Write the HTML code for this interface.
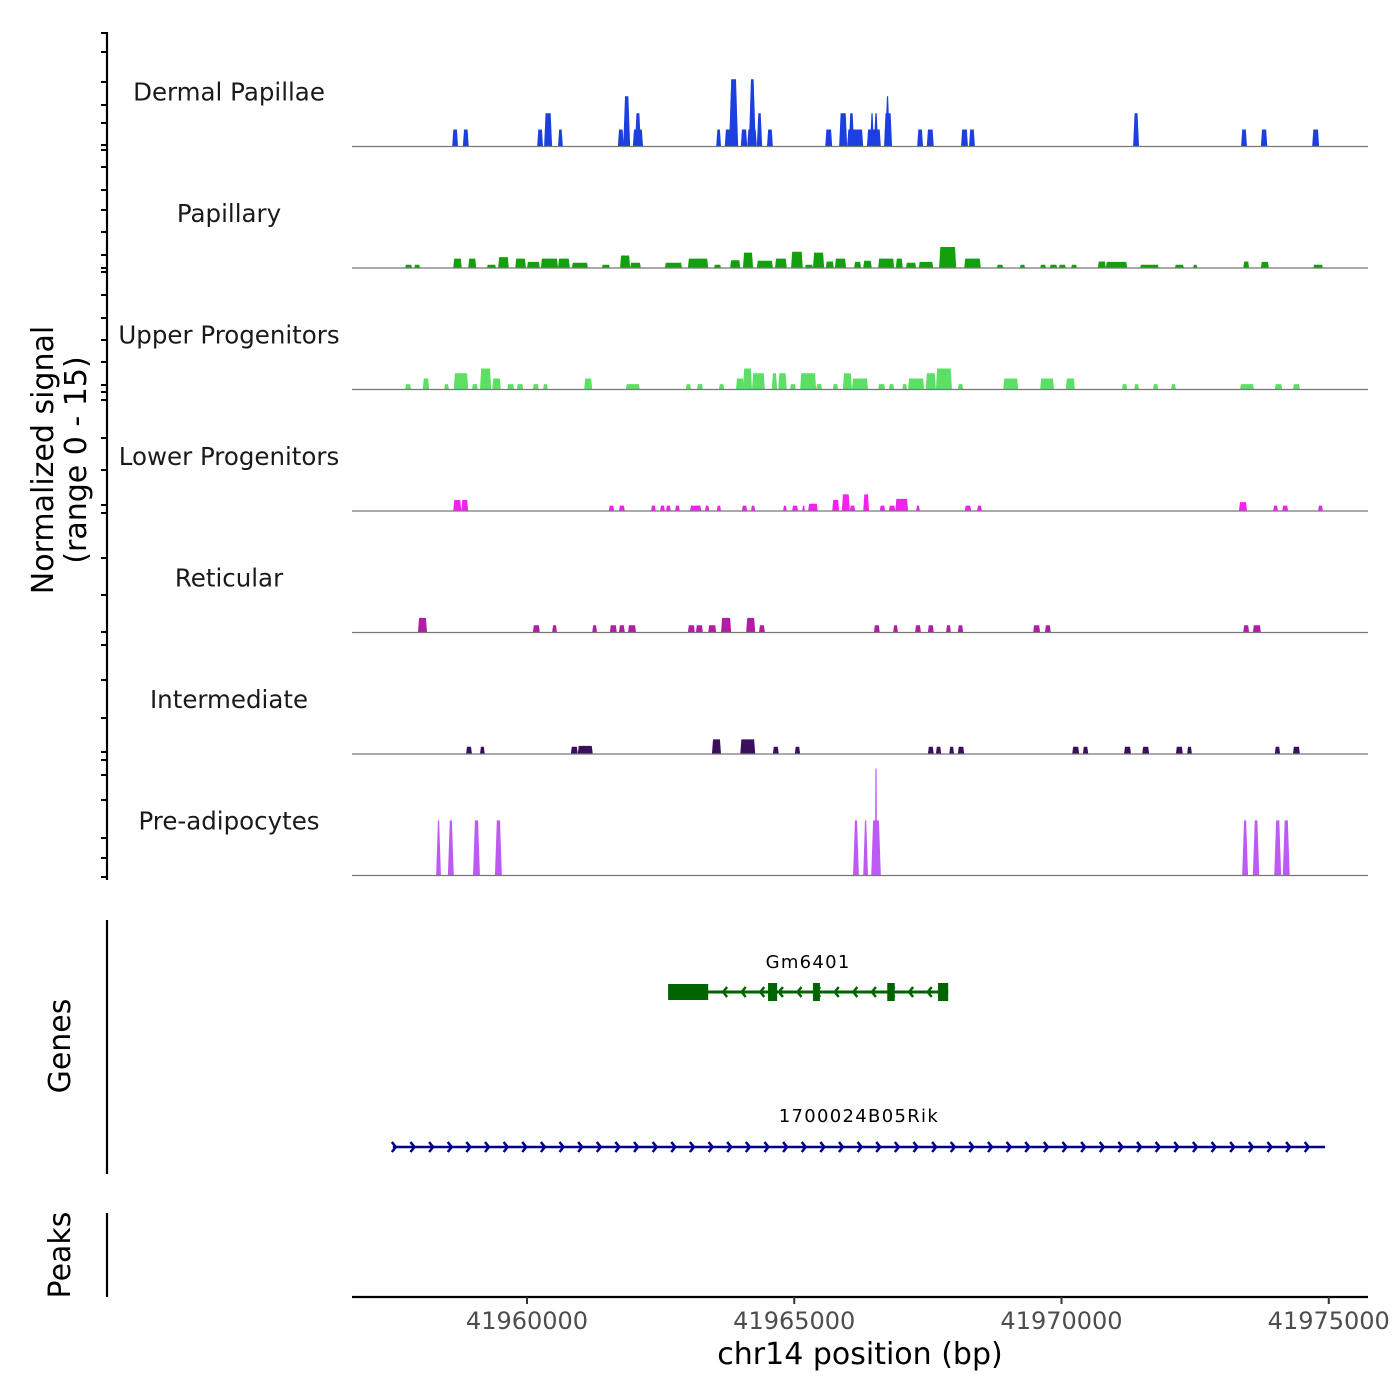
<!DOCTYPE html>
<html><head><meta charset="utf-8"><title>Coverage plot</title>
<style>
html,body{margin:0;padding:0;background:#fff;}
svg{display:block;font-family:"DejaVu Sans","Liberation Sans",sans-serif;}
</style></head>
<body>
<svg id="chart" width="1400" height="1400" viewBox="0 0 1400 1400" xmlns="http://www.w3.org/2000/svg">
<rect x="0" y="0" width="1400" height="1400" fill="#fff"/>
<g id="tracks"></g>
<g id="genes"></g>
<g id="axes">
  <line x1="107" y1="32" x2="107" y2="880" stroke="#000" stroke-width="2.2"/>
  <line x1="107" y1="920" x2="107" y2="1174" stroke="#000" stroke-width="2.2"/>
  <line x1="107" y1="1213" x2="107" y2="1297" stroke="#000" stroke-width="2.2"/>
  <line x1="352" y1="1297" x2="1368" y2="1297" stroke="#000" stroke-width="2.2"/>
  <text x="0" y="0" transform="translate(53,460) rotate(-90)" font-size="30" text-anchor="middle" fill="#000">Normalized signal</text>
  <text x="0" y="0" transform="translate(86,460) rotate(-90)" font-size="30" text-anchor="middle" fill="#000">(range 0 - 15)</text>
  <text x="0" y="0" transform="translate(70,1046) rotate(-90)" font-size="30" text-anchor="middle" fill="#000">Genes</text>
  <text x="0" y="0" transform="translate(70,1255) rotate(-90)" font-size="30" text-anchor="middle" fill="#000">Peaks</text>
  <text x="860" y="1364" font-size="30" text-anchor="middle" fill="#000">chr14 position (bp)</text>
</g>
</svg>
<script>
// ---- data (positions in kb relative to ORIGIN bp; heights in normalized signal units) ----
const ORIGIN = 41960000;
const xTicks = [41960000, 41965000, 41970000, 41975000];
const trackNames = ["Dermal Papillae","Papillary","Upper Progenitors","Lower Progenitors","Reticular","Intermediate","Pre-adipocytes"];
const trackColors = ["#1c3fdf","#12a00c","#5ddf66","#ef22ee","#b41ca6","#3b0f5c","#be5af4"];

const dpStart = [-1.40,-1.20,0.19,0.32,0.58,1.70,1.80,1.98,2.02,3.54,3.70,3.78,4.00,4.12,4.15,4.30,4.49,5.58,5.84,5.99,6.02,6.36,6.42,6.49,6.68,6.70,7.30,7.48,8.12,8.27,11.34,13.36,13.73,14.69];
const dpEnd   = [-1.29,-1.09,0.30,0.47,0.67,1.81,1.93,2.17,2.13,3.63,3.93,3.95,4.12,4.30,4.28,4.40,4.60,5.71,5.99,6.29,6.12,6.62,6.49,6.57,6.83,6.79,7.41,7.61,8.25,8.38,11.45,13.47,13.85,14.82];
const dpVal   = [2.1,2.1,2.1,4.1,2.1,2.1,6.2,2.1,4.1,2.1,2.1,8.3,2.1,2.1,8.3,4.1,2.1,2.1,4.1,2.1,4.1,2.1,4.1,4.1,4.1,6.2,2.1,2.1,2.1,2.1,4.1,2.1,2.1,2.1];

const paStart = [-2.28,-2.11,-1.38,-1.10,-0.75,-0.54,-0.22,0.00,0.26,0.58,0.84,1.40,1.74,1.93,2.58,3.01,3.50,3.80,4.04,4.30,4.64,4.94,5.20,5.35,5.59,5.76,6.12,6.29,6.57,6.90,7.09,7.33,7.71,8.18,8.79,9.22,9.60,9.78,9.95,10.18,10.68,10.83,11.47,12.12,12.46,13.40,13.73,14.71];
const paEnd   = [-2.15,-2.00,-1.22,-0.95,-0.58,-0.34,-0.02,0.24,0.58,0.80,1.14,1.55,1.93,2.13,2.90,3.39,3.63,3.99,4.23,4.60,4.86,5.16,5.35,5.56,5.74,5.97,6.25,6.45,6.87,7.03,7.28,7.60,8.03,8.49,8.91,9.32,9.71,9.92,10.08,10.29,10.83,11.23,11.82,12.29,12.54,13.51,13.88,14.89];
const paVal   = [0.4,0.4,1.15,1.15,0.4,1.35,1.15,0.75,1.15,1.15,0.65,0.4,1.55,0.65,0.65,1.15,0.4,0.95,1.9,0.9,1.15,2.0,0.4,1.9,0.8,1.15,0.75,0.9,1.15,1.15,0.65,0.75,2.6,1.15,0.4,0.4,0.4,0.4,0.4,0.4,0.8,0.75,0.4,0.4,0.4,0.8,0.75,0.4];

const upStart = [-2.28,-1.95,-1.55,-1.37,-1.03,-0.88,-0.65,-0.37,-0.19,0.11,0.30,1.07,1.85,2.97,3.18,3.59,3.91,4.04,4.21,4.58,4.70,4.92,5.11,5.41,5.72,5.91,6.08,6.57,6.77,7.02,7.13,7.46,7.65,8.06,8.91,9.60,10.08,11.13,11.36,11.71,12.05,13.34,13.99,14.33];
const upEnd   = [-2.17,-1.83,-1.46,-1.10,-0.92,-0.67,-0.49,-0.24,-0.07,0.22,0.39,1.22,2.11,3.07,3.29,3.69,4.06,4.21,4.45,4.68,4.86,5.03,5.41,5.52,5.82,6.08,6.38,6.70,6.87,7.11,7.43,7.65,7.95,8.16,9.19,9.86,10.25,11.23,11.45,11.81,12.14,13.60,14.13,14.46];
const upVal   = [0.66,1.36,0.66,2.0,0.66,2.6,1.36,0.66,0.66,0.66,0.66,1.36,0.66,0.66,0.66,0.66,1.36,2.6,2.0,2.0,2.0,0.66,2.0,0.66,0.66,2.0,1.36,0.66,0.66,0.66,1.36,2.0,2.6,0.66,1.36,1.36,1.36,0.66,0.66,0.66,0.66,0.66,0.66,0.66];

const lpStart = [-1.38,-1.23,1.53,1.72,2.32,2.49,2.60,2.77,3.05,3.33,3.55,4.02,4.19,4.79,4.96,5.15,5.26,5.71,5.89,6.04,6.29,6.60,6.77,6.89,7.28,8.19,8.42,13.32,13.96,14.13,14.80];
const lpEnd   = [-1.23,-1.10,1.63,1.83,2.41,2.58,2.69,2.86,3.26,3.41,3.63,4.12,4.27,4.86,5.07,5.20,5.44,5.84,6.04,6.14,6.40,6.70,6.89,7.13,7.35,8.31,8.51,13.47,14.05,14.24,14.89];
const lpVal   = [1.36,1.36,0.66,0.66,0.66,0.66,0.66,0.66,0.66,0.66,0.66,0.66,0.66,0.66,0.66,0.66,0.9,1.36,2.06,0.66,2.06,0.66,0.66,1.5,0.66,0.66,0.66,1.1,0.66,0.66,0.66];

const reStart = [-2.04,0.11,0.47,1.22,1.55,1.72,1.89,3.01,3.16,3.39,3.63,4.10,4.34,6.49,6.85,7.26,7.50,7.84,8.06,9.47,9.69,13.40,13.58];
const reEnd   = [-1.87,0.24,0.56,1.31,1.68,1.83,2.04,3.14,3.29,3.54,3.82,4.27,4.45,6.60,6.94,7.37,7.61,7.93,8.16,9.60,9.80,13.51,13.73];
const reVal   = [1.8,0.9,0.9,0.9,0.9,0.9,0.9,0.9,0.9,0.9,1.8,1.8,0.9,0.9,0.9,0.9,0.9,0.9,0.9,0.9,0.9,0.9,0.9];

const inStart = [-1.14,-0.88,0.82,0.95,3.46,3.99,4.60,5.01,7.50,7.65,7.90,8.06,10.20,10.40,11.17,11.51,12.14,12.35,13.99,14.33];
const inEnd   = [-1.03,-0.79,0.95,1.23,3.63,4.27,4.71,5.11,7.61,7.75,7.99,8.18,10.33,10.50,11.30,11.64,12.27,12.44,14.09,14.46];
const inVal   = [0.9,0.9,0.9,1.0,1.8,1.8,0.9,0.9,0.9,0.9,0.9,0.9,0.9,0.9,0.9,0.9,0.9,0.9,0.9,0.9];

const adStart = [-1.70,-1.48,-1.01,-0.60,6.10,6.29,6.44,6.51,13.38,13.58,13.98,14.14];
const adEnd   = [-1.61,-1.37,-0.88,-0.47,6.21,6.38,6.62,6.55,13.49,13.70,14.11,14.27];
const adVal   = [6.8,6.8,6.8,6.8,6.8,6.8,6.8,13.2,6.8,6.8,6.8,6.8];

const trackStarts = [dpStart,paStart,upStart,lpStart,reStart,inStart,adStart];
const trackEnds   = [dpEnd,paEnd,upEnd,lpEnd,reEnd,inEnd,adEnd];
const trackVals   = [dpVal,paVal,upVal,lpVal,reVal,inVal,adVal];

// genes
const gm6401Start = 2.64, gm6401End = 7.88;
const gm6401ExonStart = [2.64,4.51,5.35,6.74,7.69];
const gm6401ExonEnd   = [3.39,4.68,5.48,6.88,7.88];
const rikStart = -2.51, rikEnd = 14.93;

// ---- scales ----
const NS = "http://www.w3.org/2000/svg";
const PX_PER_BP = 0.05345;
function xScale(bp){ return 527 + (bp - ORIGIN) * PX_PER_BP; }
function xKb(kb){ return xScale(ORIGIN + kb*1000); }
const TRACK_TOP = 25, TRACK_H = 121.5, YMAX = 15;
function baseY(i){ return TRACK_TOP + TRACK_H*(i+1); }
function yScale(i, v){ return baseY(i) - v/YMAX*TRACK_H; }

function mk(tag, attrs, parent){
  const e = document.createElementNS(NS, tag);
  for (const k in attrs) e.setAttribute(k, attrs[k]);
  parent.appendChild(e); return e;
}

const tracksG = document.getElementById('tracks');
trackNames.forEach((name, i) => {
  const g = mk('g', {}, tracksG);
  
  
  const lab = mk('text', {x:229, y: baseY(i) - 46, 'font-size':24.5, 'text-anchor':'middle', fill:'#1a1a1a'}, g);
  lab.textContent = name;
  
  
  const s = trackStarts[i], e = trackEnds[i], v = trackVals[i];
  for (let j = 0; j < s.length; j++) {
    const x0 = xKb(s[j]), x1 = xKb(e[j]);
    const b = baseY(i), top = yScale(i, v[j]);
    const hpx = b - top;
    const w = x1 - x0;
    const inset = Math.max(0.2, Math.min(0.8 + hpx*0.02, w/2 - 0.6));
    const p = mk('polygon', {points: `${x0},${b} ${x0+inset},${top} ${x1-inset},${top} ${x1},${b}`, fill: trackColors[i]}, g);
    
    
  }
  const bl = mk('line', {x1:352, x2:1368, y1:baseY(i), y2:baseY(i), stroke:'#777', 'stroke-width':1.2}, g);
  
  
});

// left ticks
const axesG = document.getElementById('axes');
const leftTickY = [33,52,82,105,123,145,150,167,190,210,232,255,268,272,295,318,340,362,385,392,400,438,470,505,513,558,595,632,645,680,718,752,760,775,800,838,858,877];
leftTickY.forEach(y => {
  const t = mk('line', {x1:101, x2:107, y1:y, y2:y, stroke:'#000', 'stroke-width':2}, axesG);
  
  
});
xTicks.forEach(bp => {
  const x = xScale(bp);
  const t = mk('line', {x1:x, x2:x, y1:1297, y2:1304, stroke:'#333', 'stroke-width':2}, axesG);
  
  
  const l = mk('text', {x:x, y:1329, 'font-size':24, 'text-anchor':'middle', fill:'#4d4d4d'}, axesG);
  l.textContent = String(bp);
  
  
});

// genes
const genesG = document.getElementById('genes');
(function(){
  const g = mk('g', {}, genesG);
  
  
  const col = '#006400', y = 992;
  const x0 = xKb(gm6401Start), x1 = xKb(gm6401End);
  mk('line', {x1:x0, x2:x1, y1:y, y2:y, stroke:col, 'stroke-width':3}, g);
  for (let j = 0; j < gm6401ExonStart.length; j++) {
    const ex = mk('rect', {x:xKb(gm6401ExonStart[j]), y: j===0 ? y-8 : y-9, width: xKb(gm6401ExonEnd[j]) - xKb(gm6401ExonStart[j]), height: j===0 ? 16 : 18, fill:col}, g);
    
    
  }
  for (let ax = x0 + 55; ax < x1 - 4; ax += 18.6) {
    mk('polyline', {points:`${ax+4},${y-5} ${ax},${y} ${ax+4},${y+5}`, fill:'none', stroke:col, 'stroke-width':2.5}, g);
  }
  const t = mk('text', {x:(x0+x1)/2, y:968, 'font-size':18, 'text-anchor':'middle', fill:'#000', 'letter-spacing':'1.3'}, g);
  t.textContent = 'Gm6401';
  
  
})();
(function(){
  const g = mk('g', {}, genesG);
  
  
  const col = '#00008b', y = 1147;
  const x0 = xKb(rikStart), x1 = xKb(rikEnd);
  mk('line', {x1:x0, x2:x1, y1:y, y2:y, stroke:col, 'stroke-width':2.5}, g);
  for (let ax = x0 + 3; ax <= x1 + 0.5; ax += 18.63) {
    mk('polyline', {points:`${ax-4},${y-5} ${ax},${y} ${ax-4},${y+5}`, fill:'none', stroke:col, 'stroke-width':2.5}, g);
  }
  const t = mk('text', {x:(x0+x1)/2, y:1122, 'font-size':18, 'text-anchor':'middle', fill:'#000', 'letter-spacing':'1.3'}, g);
  t.textContent = '1700024B05Rik';
  
  
})();
</script>
</body></html>
